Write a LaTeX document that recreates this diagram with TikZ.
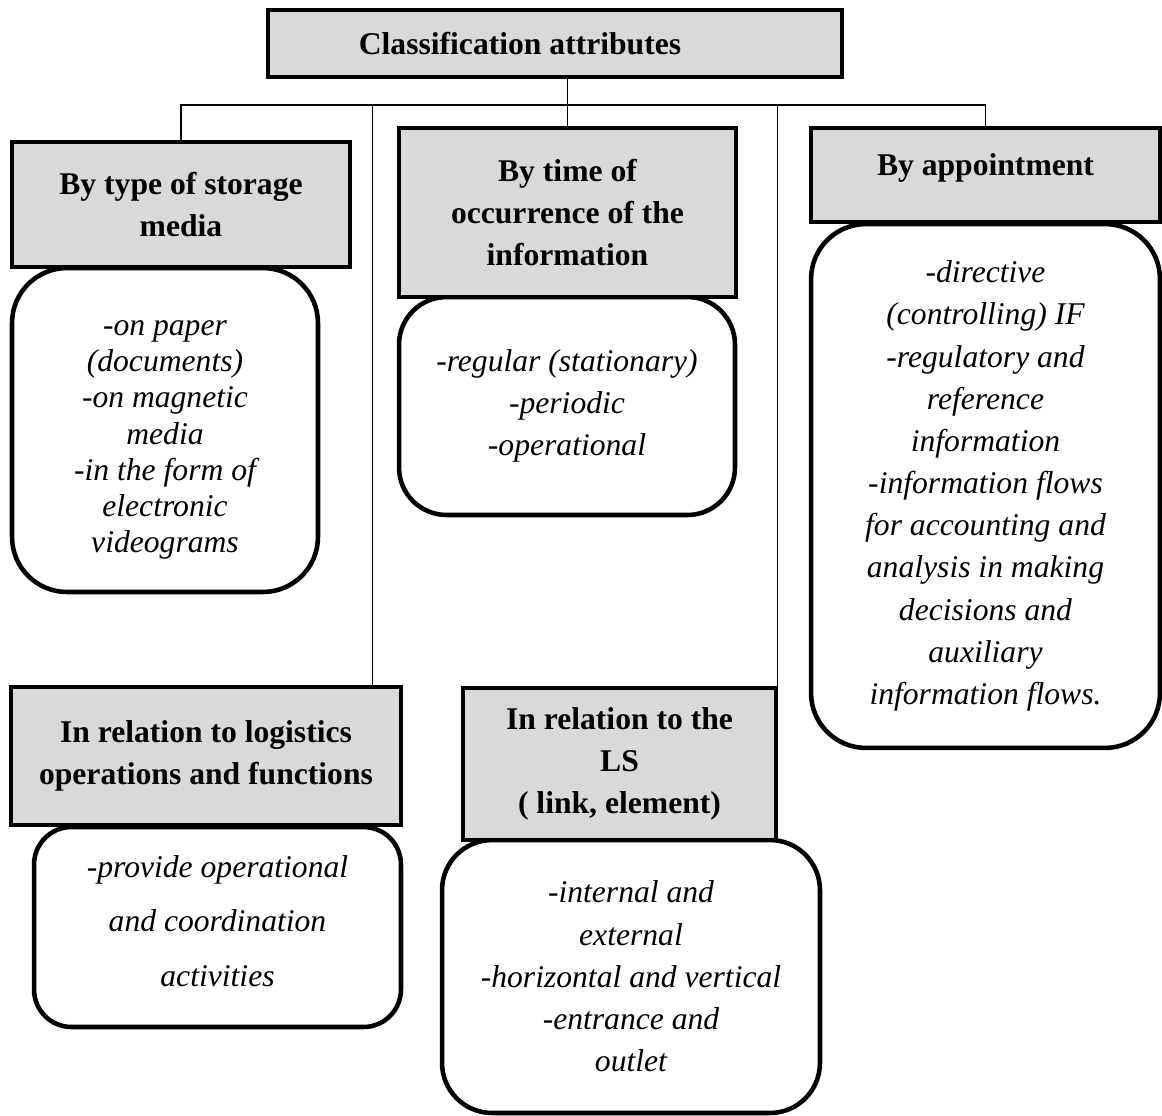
\documentclass[tikz,border=0pt]{standalone}
\usepackage{fontspec}
\setmainfont{Liberation Serif}
\definecolor{headgray}{HTML}{D9D9D9}
\tikzset{
	head/.style={draw,line width=2.6pt,fill=headgray,inner sep=0pt,align=center,font=\fontsize{18}{24}\selectfont\bfseries},
	body/.style={draw,line width=2.6pt,fill=white,rounded corners=1.1cm,inner sep=0pt,align=center,font=\fontsize{18}{24}\selectfont\itshape},
	link/.style={line width=0.8pt}
}
\begin{document}
\begin{tikzpicture}[x=0.02cm,y=-0.02cm]
	\useasboundingbox (0,0) rectangle (1162,1115);
	\coordinate (bus) at (0,105);
	% top
	\node[head,minimum width=11.48cm,minimum height=1.34cm] (top) at (555,43.5) {};
	\node[font=\fontsize{18}{24}\selectfont\bfseries] (toplabel) at (520,44) {Classification attributes};
	% bodies first, heads drawn over them
	\node[body,minimum width=6.12cm,minimum height=6.48cm] (typebody) at (165,430) {};
	\node[align=center,font=\fontsize{18}{20.6}\selectfont\itshape] (typetext) at (165,440) {-on paper\\(documents)\\-on magnetic\\media\\-in the form of\\electronic\\videograms};
	\node[body,minimum width=6.72cm,minimum height=4.36cm,rounded corners=0.95cm] (timebody) at (567,406) {-regular (stationary)\\-periodic\\-operational};
	\node[body,minimum width=6.98cm,minimum height=10.48cm] (apptbody) at (985.5,486) {-directive\\(controlling) IF\\-regulatory and\\reference\\information\\-information flows\\for accounting and\\analysis in making\\decisions and\\auxiliary\\information flows.};
	\node[body,minimum width=7.34cm,minimum height=4cm,rounded corners=0.75cm] (logbody) at (217.5,927) {};
	\node[align=center,font=\fontsize{18}{31}\selectfont\itshape] (logtext) at (217.5,921) {-provide operational\\and coordination\\activities};
	\node[body,minimum width=7.56cm,minimum height=5.46cm,rounded corners=1cm] (lsbody) at (631,976.5) {-internal and\\external\\-horizontal and vertical\\-entrance and\\outlet};
	\node[head,minimum width=6.76cm,minimum height=2.5cm] (typehead) at (181,204.5) {By type of storage\\media};
	\node[head,minimum width=6.74cm,minimum height=3.38cm] (timehead) at (567.5,212.5) {By time of\\occurrence of the\\information};
	\node[head,minimum width=6.98cm,minimum height=1.88cm] (appthead) at (985.5,175) {};
	\node[font=\fontsize{18}{24}\selectfont\bfseries] (apptlabel) at (985.5,168) {By appointment};
	\node[head,minimum width=7.8cm,minimum height=2.76cm] (loghead) at (206,756) {In relation to logistics\\operations and functions};
	\node[head,minimum width=6.26cm,minimum height=3.04cm] (lshead) at (619.5,764) {In relation to the\\LS\\( link, element)};
	% connectors
	\draw[link] (top.south -| timehead.north) -- (timehead.north);
	\draw[link] (typehead.north) -- (typehead.north |- bus) -| (appthead.north);
	\draw[link] ([xshift=-0.62cm]loghead.north east) -- ([xshift=-0.62cm]loghead.north east |- bus);
	\draw[link] ([xshift=-0.02cm]lshead.north east) -- ([xshift=-0.02cm]lshead.north east |- bus);
\end{tikzpicture}
\end{document}
